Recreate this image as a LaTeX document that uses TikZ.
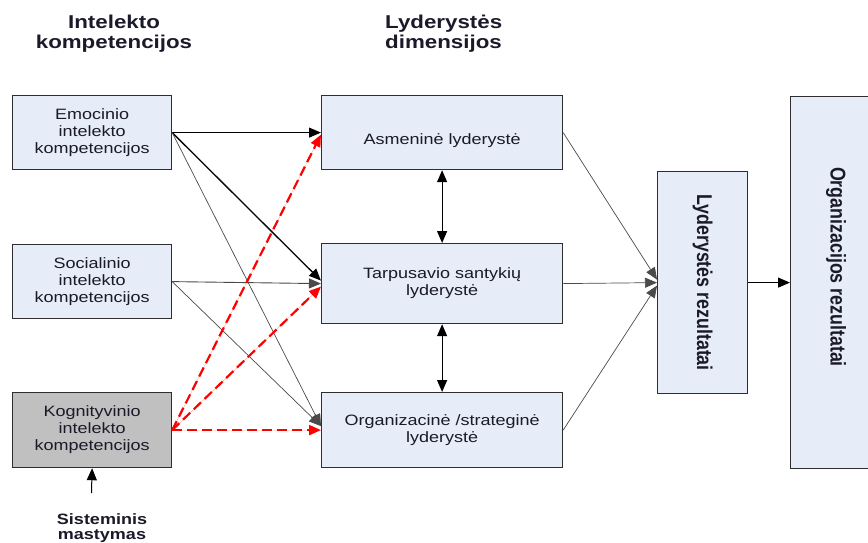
\documentclass[tikz,border=0pt]{standalone}
\usepackage{graphicx}
\usepackage{fontspec}
\setmainfont{Liberation Sans}[FakeStretch=1.2]
\newfontfamily\plainsans{Liberation Sans}
\usetikzlibrary{arrows.meta,calc}

\definecolor{boxfill}{HTML}{E6ECF8}
\definecolor{kogfill}{HTML}{C0C0C0}
\definecolor{boxline}{HTML}{2E2E2E}
\definecolor{txt}{HTML}{1A1A2A}
\definecolor{thinline}{HTML}{4A4A4A}
\definecolor{dashred}{HTML}{FF0000}

\begin{document}
\begin{tikzpicture}[x=1pt,y=-1pt,
  box/.style={draw=boxline, line width=1.2pt, fill=boxfill, inner sep=0pt,
    anchor=north west, align=center, text=txt,
    font=\fontsize{15}{17}\selectfont},
  boxtext/.style={inner sep=0pt, align=center, text=txt,
    font=\fontsize{15}{17}\selectfont},
  title/.style={inner sep=0pt, text=txt,
    font=\fontsize{18.6}{20}\selectfont\bfseries},
  vlabel/.style={inner sep=0pt, rotate=-90, text=txt,
    font=\plainsans\fontsize{17.8}{20}\selectfont\bfseries},
  head/.style={-{Triangle[length=12pt,width=10pt]}},
  link/.style={head, draw=thinline, line width=0.7pt},
  mainlink/.style={head, draw=black, line width=1pt},
  redlink/.style={-{Triangle[length=12pt,width=10pt]}, draw=dashred, fill=dashred,
    line width=2.2pt, dash pattern=on 10pt off 5pt},
  twoway/.style={{Triangle[length=12pt,width=10pt]}-{Triangle[length=12pt,width=10pt]},
    draw=black, line width=1.2pt}
]
\useasboundingbox (0,0) rectangle (868,542);
\clip (0,0) rectangle (868,542);

% column headings
\node[title, align=center] (headIK) at (114,34) {Intelekto\\kompetencijos};
\node[title, align=left, anchor=west] (headLD) at (385,34) {Lyderystės\\dimensijos};

% intelligence competencies
\node[box, minimum width=159pt, minimum height=74pt] (emo) at (12,95)
  {Emocinio\\intelekto\\kompetencijos};
\node[box, minimum width=159pt, minimum height=74pt] (soc) at (12,244)
  {Socialinio\\intelekto\\kompetencijos};
\node[box, fill=kogfill, minimum width=159pt, minimum height=75pt] (kog) at (12,392)
  {Kognityvinio\\intelekto\\kompetencijos};

% leadership dimensions
\node[box, minimum width=241pt, minimum height=74pt] (asm) at (321,95) {};
\node[boxtext] (asmtext) at ($(asm.center)+(0,8)$) {Asmeninė lyderystė};
\node[box, minimum width=241pt, minimum height=80pt] (tarp) at (321,243)
  {Tarpusavio santykių\\lyderystė};
\node[box, minimum width=241pt, minimum height=75pt] (org) at (321,392)
  {Organizacinė /strateginė\\lyderystė};

% results
\node[box, minimum width=90pt, minimum height=222pt] (lyd) at (657,171) {};
\node[vlabel] (lydtext) at (lyd.center) {\scalebox{1}[1.2]{Lyderystės rezultatai}};
\node[box, minimum width=100pt, minimum height=372pt] (orgr) at (790,96) {};
\node[vlabel] (orgrtext) at (836,267) {\scalebox{1}[1.2]{Organizacijos rezultatai}};

% systems thinking
\node[inner sep=0pt, align=center, text=txt,
  font=\fontsize{15}{15}\selectfont\bfseries] (sist) at (102,528)
  {Sisteminis\\mastymas};
\coordinate (sistTop) at (91.5,493);
\draw[mainlink] (sistTop) -- (kog.south);

% competencies -> dimensions
\draw[mainlink] (emo.east) -- (asm.west);
\draw[mainlink, line width=1.3pt] (emo.east) -- ([yshift=3pt]tarp.west);
\draw[link] (emo.east) -- ([yshift=4pt]org.west);
\draw[link, line width=0.9pt] (soc.east) -- (tarp.west);
\draw[link] (soc.east) -- ([yshift=4pt]org.west);
\draw[redlink] (kog.east) -- ([yshift=-2pt]asm.west);
\draw[redlink] (kog.east) -- ([yshift=-3pt]tarp.west);
\draw[redlink] (kog.east) -- (org.west);

% links between dimensions
\draw[twoway] (asm.south) -- (tarp.north);
\draw[twoway] (tarp.south) -- (org.north);

% dimensions -> results
\draw[link] (asm.east) -- ([yshift=3pt]lyd.west);
\draw[link] (tarp.east) -- (lyd.west);
\draw[link] (org.east) -- ([yshift=-3pt]lyd.west);
\draw[mainlink] (lyd.east) -- (orgr.west);
\end{tikzpicture}
\end{document}
